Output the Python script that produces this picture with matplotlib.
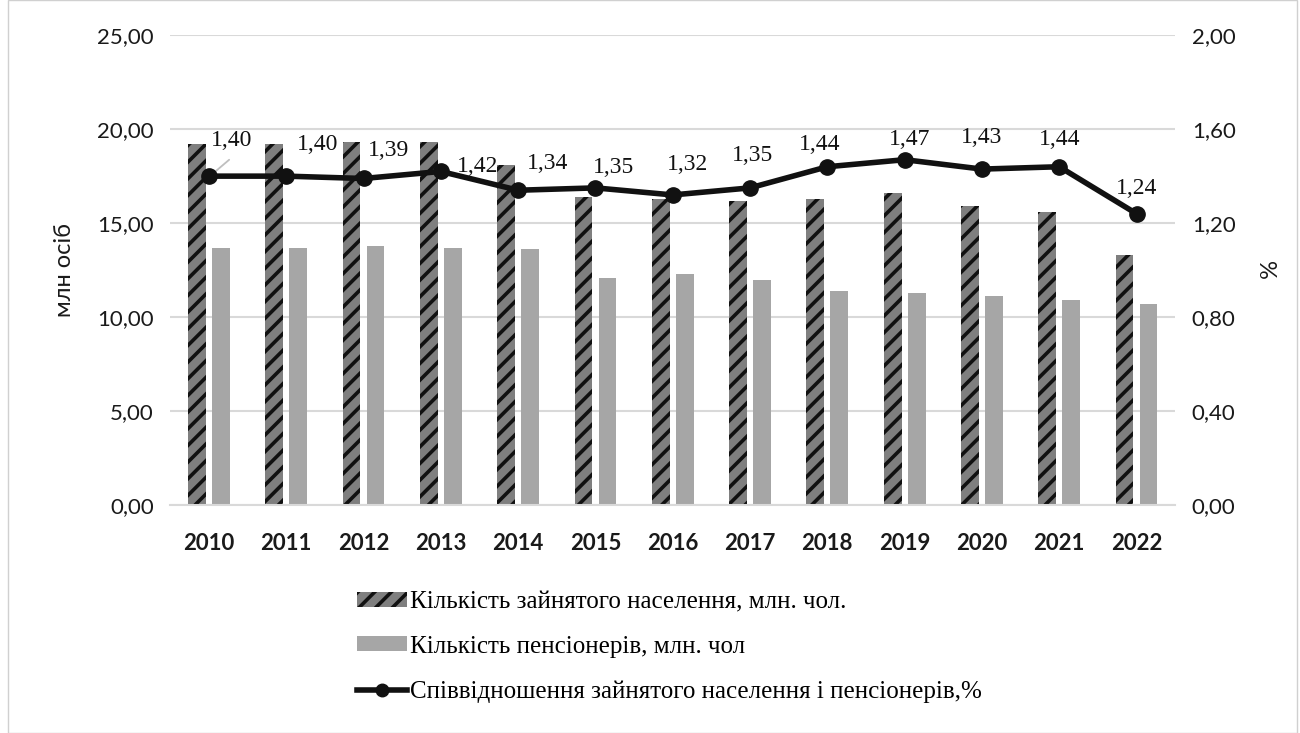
import numpy as np
import matplotlib.pyplot as plt
from matplotlib.patches import Patch
from matplotlib.lines import Line2D

years = ['2010', '2011', '2012', '2013', '2014', '2015', '2016',
         '2017', '2018', '2019', '2020', '2021', '2022']
employed = [19.2, 19.2, 19.3, 19.3, 18.1, 16.4, 16.3, 16.2, 16.3, 16.6, 15.9, 15.6, 13.3]
pensioners = [13.7, 13.7, 13.8, 13.7, 13.6, 12.1, 12.3, 12.0, 11.4, 11.3, 11.1, 10.9, 10.7]
ratio = [1.40, 1.40, 1.39, 1.42, 1.34, 1.35, 1.32, 1.35, 1.44, 1.47, 1.43, 1.44, 1.24]
# label offsets in pixels (dx, dy) from each point
label_offsets = [(23, 36), (31, 32), (25, 28), (37, 5), (29, 27), (18, 20), (15, 30),
                 (2, 32), (-8, 22), (5, 20), (0, 32), (0, 27), (0, 25)]

plt.rcParams['hatch.linewidth'] = 2.6
plt.rcParams['hatch.color'] = '#111111'

fig = plt.figure(figsize=(13, 7.33), dpi=100)
ax = fig.add_axes([0.131, 0.311, 0.773, 0.641])
ax2 = ax.twinx()

x = np.arange(len(years))
w = 0.23
ax.bar(x - 0.155, employed, w, color='#7f7f7f', hatch='//', edgecolor='#111111', linewidth=0)
ax.bar(x + 0.155, pensioners, w, color='#a6a6a6', linewidth=0)

ax2.plot(x, ratio, color='#111111', lw=4, marker='o', ms=11, zorder=5)
for i, v in enumerate(ratio):
    ax2.annotate(f'{v:.2f}'.replace('.', ','), (x[i], v), xytext=label_offsets[i],
                 textcoords='offset pixels', ha='center', va='center',
                 fontsize=17, family='Liberation Serif', color='#111111')
ax2.annotate('', (x[0] + 0.03, ratio[0] + 0.005), xytext=(20, 17), textcoords='offset pixels',
             arrowprops=dict(arrowstyle='-', color='#bfbfbf', lw=1.3))

ax.set_xlim(-0.5, len(years) - 0.5)
ax.set_ylim(0, 25)
ax2.set_ylim(0, 2)
ax.set_yticks(np.arange(0, 25.1, 5))
ax.set_yticklabels([f'{t:.2f}'.replace('.', ',') for t in np.arange(0, 25.1, 5)])
ax2.set_yticks(np.arange(0, 2.01, 0.4))
ax2.set_yticklabels([f'{t:.2f}'.replace('.', ',') for t in np.arange(0, 2.01, 0.4)])
ax.set_xticks(x)
ax.set_xticklabels(years, fontweight='bold')

ax.yaxis.grid(True, color='#d9d9d9', lw=1.5)
ax.set_axisbelow(True)
for a in (ax, ax2):
    for s in a.spines.values():
        s.set_visible(False)
    a.tick_params(length=0, labelsize=16, colors='#1a1a1a')
    for t in a.get_xticklabels() + a.get_yticklabels():
        t.set_family('Lato')
ax.spines['bottom'].set_visible(True)
ax.spines['bottom'].set_color('#d9d9d9')
ax.spines['bottom'].set_linewidth(1.5)
ax.tick_params(axis='x', pad=20, labelsize=16)
ax.tick_params(axis='y', pad=12)
ax2.tick_params(axis='y', pad=12)

ax.set_ylabel('млн осіб', fontsize=17, family='Lato', color='#1a1a1a', labelpad=16)
ax2.set_ylabel('%', fontsize=17, family='Lato', color='#1a1a1a', rotation=-90, labelpad=28)

handles = [
    Patch(facecolor='#7f7f7f', hatch='//', edgecolor='#111111', linewidth=0),
    Patch(facecolor='#a6a6a6', linewidth=0),
    Line2D([0], [0], color='#111111', lw=4, marker='o', ms=9),
]
labels = ['Кількість зайнятого населення, млн. чол.',
          'Кількість пенсіонерів, млн. чол',
          'Співвідношення зайнятого населення і пенсіонерів,%']
fig.legend(handles, labels, loc='upper left', bbox_to_anchor=(0.267, 0.207),
           frameon=False, prop={'family': 'Liberation Serif', 'size': 18},
           handlelength=2.0, handleheight=0.55, handletextpad=0.1, labelspacing=0.9,
           borderaxespad=0)

fig.patches.append(plt.Rectangle((0.006, 0.0), 0.992, 1.0, transform=fig.transFigure,
                                 fill=False, edgecolor='#d0d0d0', lw=1))
fig.savefig('out.png', dpi=100, facecolor='white')
